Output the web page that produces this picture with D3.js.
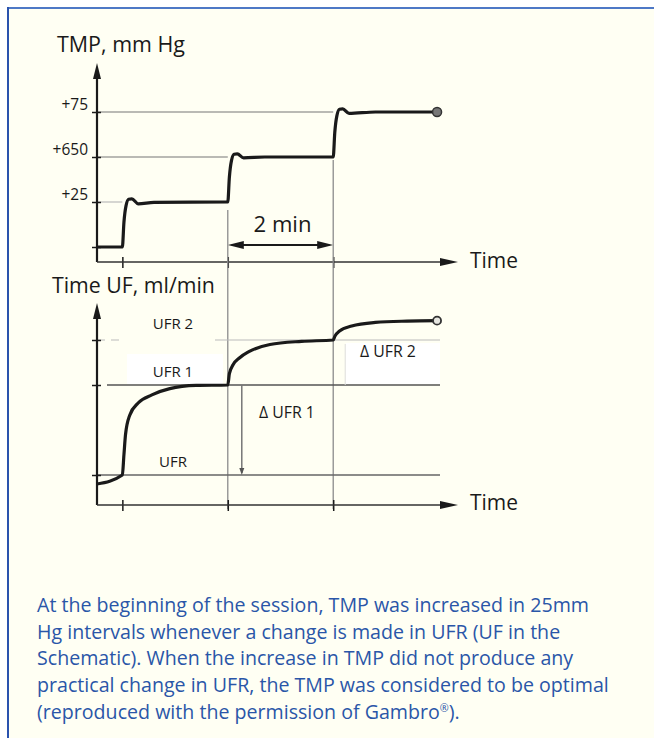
<!DOCTYPE html>
<html>
<head>
<meta charset="utf-8">
<script src="https://cdn.jsdelivr.net/npm/d3@7"></script>
<style>
  html, body { margin: 0; padding: 0; background: #fff; }
  svg { display: block; }
</style>
</head>
<body>
<svg width="654" height="738"></svg>
<script>
// TMP panel: level index -> tick label (schematic, labels as printed)
const tmpLabels = ["", "+25", "+650", "+75"];
const stepTimes = [0.5, 2.5, 4.5]; // min, when TMP is raised
const tmpTime  = [0.02, 0.5, 0.53, 0.57, 0.62, 0.68, 0.8, 1.1, 2.5, 2.53, 2.57, 2.62, 2.68, 2.8, 3.2, 4.5, 4.53, 4.57, 4.62, 4.68, 4.8, 5.3, 6.47];
const tmpLevel = [0,    0,   0.55, 0.92, 1.06, 1.07, 0.96, 0.99, 1.0, 1.55, 1.92, 2.06, 2.07, 1.98, 2.0, 2.0, 2.55, 2.92, 3.06, 3.07, 2.97, 3.0, 3.0];

// UF panel
const ufLabels = ["UFR", "UFR 1", "UFR 2"];
const ufLevels = [0, 2, 3];
const ufTime  = [0.02, 0.5, 0.53, 0.56, 0.64, 0.8, 1.06, 1.4, 1.9, 2.5, 2.53, 2.6, 2.72, 2.9, 3.3, 3.9, 4.5, 4.53, 4.62, 4.85, 5.3, 5.9, 6.47];
const ufValue = [-0.2, 0,   0.45, 0.9, 1.33, 1.6, 1.78, 1.92, 1.99, 2.0, 2.25, 2.45, 2.6, 2.74, 2.9, 2.97, 3.0, 3.08, 3.2, 3.31, 3.39, 3.42, 3.43];

const caption = [
  "At the beginning of the session, TMP was increased in 25mm",
  "Hg intervals whenever a change is made in UFR (UF in the",
  "Schematic). When the increase in TMP did not produce any",
  "practical change in UFR, the TMP was considered to be optimal",
  "(reproduced with the permission of Gambro"
];

const svg = d3.select("svg");
const font = "'Open Sans', 'Noto Sans', sans-serif";
const ink = "#1a1a1a";

// frame
svg.append("rect").attr("x", 8).attr("y", 8).attr("width", 660).attr("height", 740).attr("fill", "#fffff3");
svg.append("line").attr("x1", 8).attr("x2", 654).attr("y1", 8).attr("y2", 8).attr("stroke", "#4d78c6").attr("stroke-width", 2);
svg.append("line").attr("x1", 8).attr("x2", 8).attr("y1", 7).attr("y2", 738).attr("stroke", "#2a52ad").attr("stroke-width", 2);

function fit(sel, w) {
  const len = sel.node().getComputedTextLength();
  sel.attr("font-size", +sel.attr("font-size") * w / len);
}

// scales
const x = d3.scaleLinear().domain([0, 7]).range([96, 465]);
const yTop = d3.scaleLinear().domain([0, 3]).range([247, 112]);
const yBot = d3.scaleLinear().domain([0, 3]).range([475, 340]);
const axisX = x(0) + 1;
const topBase = 262, botBase = 505, xEnd = 458;

function arrowUp(g, cx, tip) {
  g.append("path").attr("d", `M${cx},${tip} L${cx - 4},${tip + 16} L${cx + 4},${tip + 16}Z`).attr("fill", ink);
}
function arrowRight(g, tip, cy) {
  g.append("path").attr("d", `M${tip},${cy} L${tip - 18},${cy - 4} L${tip - 18},${cy + 4}Z`).attr("fill", ink);
}

// ---- top panel ----
const topG = svg.append("g");

// reference lines: from axis to the time each level is reached
topG.selectAll(".ref").data([1, 2, 3]).enter().append("line")
  .attr("x1", axisX).attr("x2", (d) => x(stepTimes[d - 1]))
  .attr("y1", (d) => yTop(d)).attr("y2", (d) => yTop(d))
  .attr("stroke", (d) => d === 1 ? "#bbb" : "#777").attr("stroke-width", 1.2);

// vertical step markers (continue into lower panel)
svg.selectAll(".vstep").data([1, 2]).enter().append("line")
  .attr("x1", (i) => x(stepTimes[i])).attr("x2", (i) => x(stepTimes[i]))
  .attr("y1", (i) => yTop(i) + (i === 1 ? 8 : 3)).attr("y2", botBase + 4)
  .attr("stroke", "#8c8c8c").attr("stroke-width", 1.3);

topG.append("g")
  .attr("transform", `translate(${axisX},0)`)
  .call(d3.axisLeft(yTop).tickValues([0, 1, 2, 3]).tickFormat((d) => tmpLabels[d]).tickSize(0))
  .call((g) => g.select(".domain").remove())
  .call((g) => g.selectAll(".tick line").attr("x1", -5).attr("x2", 4).attr("stroke", ink).attr("stroke-width", 1.5))
  .call((g) => g.selectAll(".tick text").attr("x", -9).attr("dy", "-0.15em")
    .attr("font-family", font).attr("font-size", 15.5).attr("fill", ink));

topG.append("g")
  .attr("transform", `translate(0,${topBase})`)
  .call(d3.axisBottom(x).tickValues(stepTimes).tickFormat("").tickSize(0))
  .call((g) => g.select(".domain").remove())
  .call((g) => g.selectAll(".tick line").attr("y1", -5).attr("y2", 6).attr("stroke", ink).attr("stroke-width", 1.5));

topG.append("line").attr("x1", axisX).attr("x2", axisX).attr("y1", topBase).attr("y2", 72).attr("stroke", ink).attr("stroke-width", 2.2);
topG.append("line").attr("x1", axisX).attr("x2", xEnd - 10).attr("y1", topBase).attr("y2", topBase).attr("stroke", "#333").attr("stroke-width", 1.3);
arrowUp(topG, axisX, 63);
arrowRight(topG, xEnd, topBase);

const tmpLine = d3.line().x((d, i) => x(tmpTime[i])).y((d, i) => yTop(tmpLevel[i])).curve(d3.curveMonotoneX);
topG.append("path").attr("d", tmpLine(tmpTime)).attr("fill", "none").attr("stroke", ink).attr("stroke-width", 3.2).attr("stroke-linejoin", "round");
topG.append("circle").attr("cx", x(tmpTime[tmpTime.length - 1])).attr("cy", yTop(tmpLevel[tmpLevel.length - 1]))
  .attr("r", 4.5).attr("fill", "#777").attr("stroke", "#333").attr("stroke-width", 1.5);

// 2 min double arrow
const ay = 245;
topG.append("line").attr("x1", x(2.5) + 4).attr("x2", x(4.5) - 4).attr("y1", ay).attr("y2", ay).attr("stroke", ink).attr("stroke-width", 1.8);
topG.append("path").attr("d", `M${x(2.5)},${ay} L${x(2.5) + 16},${ay - 4} L${x(2.5) + 16},${ay + 4}Z`).attr("fill", ink);
topG.append("path").attr("d", `M${x(4.5)},${ay} L${x(4.5) - 16},${ay - 4} L${x(4.5) - 16},${ay + 4}Z`).attr("fill", ink);
const twoMin = topG.append("text").attr("x", (x(2.5) + x(4.5)) / 2 + 2).attr("y", 232).attr("text-anchor", "middle")
  .attr("font-family", font).attr("font-size", 20).attr("fill", ink).text("2 min");
fit(twoMin, 58);

const t1 = topG.append("text").attr("x", 57).attr("y", 52).attr("font-family", font).attr("font-size", 21).attr("fill", ink).text("TMP, mm Hg");
fit(t1, 128);
const time1 = topG.append("text").attr("x", 470).attr("y", 268).attr("font-family", font).attr("font-size", 22).attr("fill", ink).text("Time");
fit(time1, 48);

// ---- bottom panel ----
const bot = svg.append("g");

// white patches behind labels
bot.append("rect").attr("x", 127).attr("y", 354).attr("width", 96).attr("height", 30).attr("fill", "#fff");
bot.append("rect").attr("x", 346).attr("y", 343).attr("width", 94).attr("height", 41).attr("fill", "#fff");

bot.append("line").attr("x1", axisX).attr("x2", 440).attr("y1", yBot(0)).attr("y2", yBot(0)).attr("stroke", "#666").attr("stroke-width", 1.3);
bot.append("line").attr("x1", 107).attr("x2", 440).attr("y1", yBot(2)).attr("y2", yBot(2)).attr("stroke", "#555").attr("stroke-width", 1.3);
bot.append("line").attr("x1", axisX).attr("x2", 125).attr("y1", yBot(3)).attr("y2", yBot(3)).attr("stroke", "#bbb").attr("stroke-width", 1.2).attr("stroke-dasharray", "8,6");
bot.append("line").attr("x1", 215).attr("x2", 440).attr("y1", yBot(3)).attr("y2", yBot(3)).attr("stroke", "#bbb").attr("stroke-width", 1.2);

bot.append("g")
  .attr("transform", `translate(${axisX},0)`)
  .call(d3.axisLeft(yBot).tickValues(ufLevels).tickFormat("").tickSize(0))
  .call((g) => g.select(".domain").remove())
  .call((g) => g.selectAll(".tick line").attr("x1", -5).attr("x2", 4).attr("stroke", ink).attr("stroke-width", 1.5));

bot.append("g")
  .attr("transform", `translate(0,${botBase})`)
  .call(d3.axisBottom(x).tickValues(stepTimes).tickFormat("").tickSize(0))
  .call((g) => g.select(".domain").remove())
  .call((g) => g.selectAll(".tick line").attr("y1", -5).attr("y2", 6).attr("stroke", ink).attr("stroke-width", 1.5));

bot.append("line").attr("x1", axisX).attr("x2", axisX).attr("y1", botBase).attr("y2", 312).attr("stroke", ink).attr("stroke-width", 2.2);
bot.append("line").attr("x1", axisX).attr("x2", xEnd - 10).attr("y1", botBase).attr("y2", botBase).attr("stroke", "#333").attr("stroke-width", 1.3);
arrowUp(bot, axisX, 303);
arrowRight(bot, xEnd, botBase);

// level labels
bot.selectAll(".uflab").data(ufLevels).enter().append("text")
  .attr("x", 173).attr("y", (d) => yBot(d) - (d === 3 ? 11 : 8))
  .attr("text-anchor", "middle").attr("font-family", font).attr("font-size", 15).attr("fill", ink)
  .text((d, i) => ufLabels[i]);

// delta UFR 1 arrow
const dx1 = x(2.5) + 14;
bot.append("line").attr("x1", dx1).attr("x2", dx1).attr("y1", yBot(2)).attr("y2", yBot(0) - 2).attr("stroke", "#777").attr("stroke-width", 1.5);
bot.append("path").attr("d", `M${dx1},${yBot(0)} L${dx1 - 2.5},${yBot(0) - 7} L${dx1 + 2.5},${yBot(0) - 7}Z`).attr("fill", "#555");
const d1 = bot.append("text").attr("x", 259).attr("y", 418).attr("font-family", font).attr("font-size", 15).attr("fill", ink).text("\u0394 UFR 1");
fit(d1, 56);
// delta UFR 2
const dx2 = x(4.5) + 12;
bot.append("line").attr("x1", dx2).attr("x2", dx2).attr("y1", yBot(3) + 4).attr("y2", yBot(2)).attr("stroke", "#ddd").attr("stroke-width", 1);
const d2 = bot.append("text").attr("x", 360).attr("y", 357).attr("font-family", font).attr("font-size", 15).attr("fill", ink).text("\u0394 UFR 2");
fit(d2, 56);

const ufLine = d3.line().x((d, i) => x(ufTime[i])).y((d, i) => yBot(ufValue[i])).curve(d3.curveMonotoneX);
bot.append("path").attr("d", ufLine(ufTime)).attr("fill", "none").attr("stroke", ink).attr("stroke-width", 3.2).attr("stroke-linejoin", "round");
bot.append("circle").attr("cx", x(ufTime[ufTime.length - 1])).attr("cy", yBot(ufValue[ufValue.length - 1]))
  .attr("r", 4).attr("fill", "#e6e6e0").attr("stroke", "#333").attr("stroke-width", 1.8);

const t2 = bot.append("text").attr("x", 52).attr("y", 293).attr("font-family", font).attr("font-size", 21).attr("fill", ink).text("Time UF, ml/min");
fit(t2, 163);
const time2 = bot.append("text").attr("x", 470).attr("y", 510).attr("font-family", font).attr("font-size", 22).attr("fill", ink).text("Time");
fit(time2, 48);

// ---- caption ----
const cap = svg.append("g").attr("font-family", font).attr("fill", "#2a56a8");
const lines = cap.selectAll("text").data(caption).enter().append("text")
  .attr("x", 37).attr("y", (d, i) => 612 + i * 26.7).attr("font-size", 17).text((d) => d);
const ref = lines.filter((d, i) => i === 3);
const fs = 17 * 572 / ref.node().getComputedTextLength();
lines.attr("font-size", fs);
const last = lines.filter((d, i) => i === 4);
last.append("tspan").attr("font-size", fs * 0.55).attr("baseline-shift", "super").text("\u00ae");
last.append("tspan").text(").");
</script>
</body>
</html>
